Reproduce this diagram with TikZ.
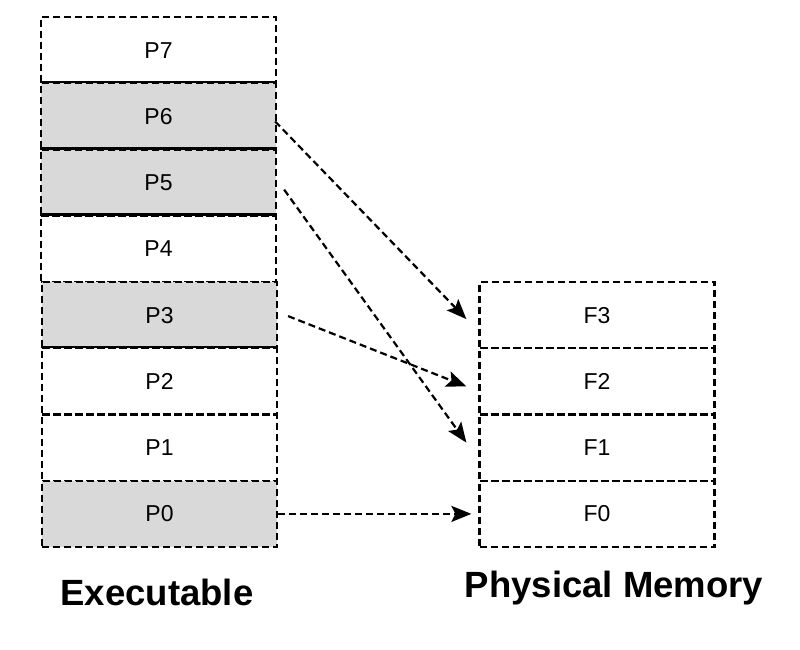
\documentclass[tikz,border=0pt]{standalone}
\usepackage{fontspec}
\setmainfont{Liberation Sans}
\usetikzlibrary{arrows.meta,calc}
\begin{document}
\begin{tikzpicture}[x=1pt,y=-1pt,
  cell/.style={draw, line width=2.2pt, dash pattern=on 7pt off 4pt,
    minimum width=235pt, minimum height=66.25pt, inner sep=0pt,
    font=\fontsize{23}{25}\selectfont},
  used/.style={fill=black!15},
  link/.style={line width=2.2pt, dash pattern=on 7pt off 4pt,
    -{Stealth[length=20pt,width=16pt,inset=4pt]}},
  solidedge/.style={line width=2.6pt},
  caption/.style={font=\bfseries\fontsize{36.5}{42}\selectfont, anchor=base}]
\useasboundingbox (0,0) rectangle (800,649);

% executable pages, top to bottom
\node[cell]       (p7) at (158.5, 50.1) {P7};
\node[cell, used] (p6) at (158.5,116.4) {P6};
\node[cell, used] (p5) at (158.5,182.6) {P5};
\node[cell]       (p4) at (158.5,248.9) {P4};
\node[cell, used] (p3) at (159.5,315.1) {P3};
\node[cell]       (p2) at (159.5,381.4) {P2};
\node[cell]       (p1) at (159.5,447.6) {P1};
\node[cell, used] (p0) at (159.5,513.9) {P0};

% physical frames
\node[cell] (f3) at (597,315.1) {F3};
\node[cell] (f2) at (597,381.4) {F2};
\node[cell] (f1) at (597,447.6) {F1};
\node[cell] (f0) at (597,513.9) {F0};

% solid boundaries between some pages
\draw[solidedge] (p6.north west) -- (p6.north east);
\draw[solidedge] (p5.north west) -- (p5.north east);
\draw[solidedge] (p4.north west) -- (p4.north east);
\draw[solidedge] (p2.north west) -- (p2.north east);

% page-to-frame mappings
\draw[link] ($(p6.east)+(-2,5)$)  -- ($(f3.west)+(-12,4)$);
\draw[link] ($(p5.east)+(7,7)$)   -- ($(f1.west)+(-12,-5)$);
\draw[link] ($(p3.east)+(10,1)$)  -- ($(f2.west)+(-12,5)$);
\draw[link] (p0.east) -- ($(f0.west)+(-7,0)$);

% captions
\node[caption] (exe) at (157,605) {Executable};
\node[caption] (mem) at (614,597) {Physical Memory};
\end{tikzpicture}
\end{document}
